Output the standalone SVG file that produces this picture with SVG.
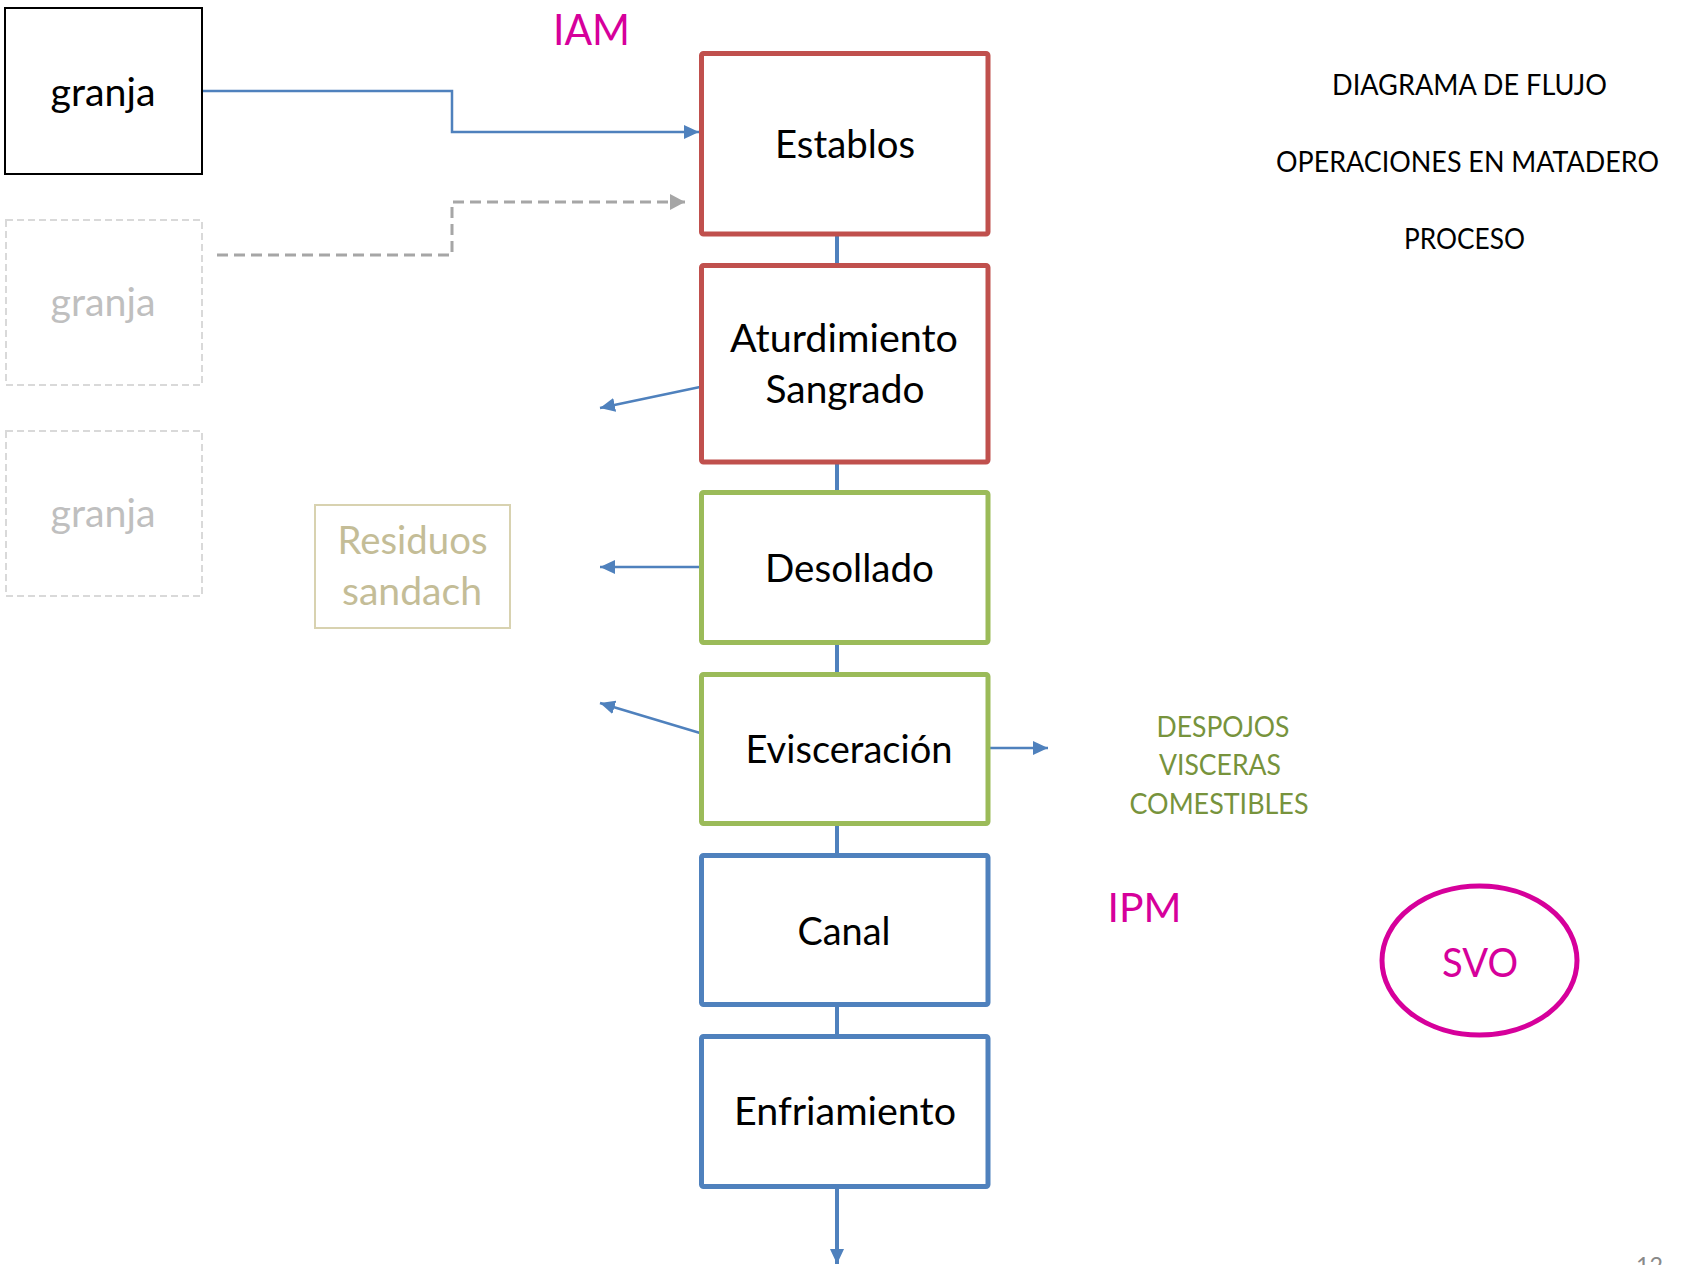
<svg xmlns="http://www.w3.org/2000/svg" width="1682" height="1265" viewBox="0 0 1682 1265">
  <style>
    text { font-family: Lato, "Open Sans", "Liberation Sans", sans-serif; text-anchor: middle; }
    .lbl { font-size: 38px; fill: #000000; }
    .step { fill: #ffffff; stroke-width: 5; }
    .red { stroke: #c0504d; }
    .green { stroke: #9bbb59; }
    .blue { stroke: #4f81bd; }
    .ghost { fill: #ffffff; stroke: #d9d9d9; stroke-width: 2; stroke-dasharray: 7 4; }
    .ghost-txt { font-size: 38px; fill: #bfbfbf; }
    .flow { fill: none; stroke: #4f81bd; stroke-width: 4; }
    .side { fill: none; stroke: #4f81bd; stroke-width: 2.5; }
    .pink { fill: #d6009b; }
    .title { font-size: 28.5px; fill: #000000; }
    .offal { font-size: 28.5px; fill: #77933c; }
  </style>
  <defs>
    <marker id="arrow-blue" markerUnits="userSpaceOnUse" markerWidth="16" markerHeight="14" refX="15" refY="7" orient="auto">
      <path d="M0,0 L15,7 L0,14 Z" fill="#4f81bd"/>
    </marker>
    <marker id="arrow-grey" markerUnits="userSpaceOnUse" markerWidth="16" markerHeight="16" refX="15" refY="8" orient="auto">
      <path d="M0,0 L15,8 L0,16 Z" fill="#a6a6a6"/>
    </marker>
  </defs>

  <rect width="1682" height="1265" fill="#ffffff"/>

  <!-- connectors -->
  <g id="connectors">
    <!-- farm to stables -->
    <polyline class="side" points="202,91 452,91 452,132 699,132" marker-end="url(#arrow-blue)"/>
    <polyline points="217,255 452,255 452,202 685,202" fill="none" stroke="#a6a6a6" stroke-width="3" stroke-dasharray="11 6" marker-end="url(#arrow-grey)"/>
    <!-- main process line -->
    <line class="flow" x1="837" y1="236" x2="837" y2="264"/>
    <line class="flow" x1="837" y1="463" x2="837" y2="491"/>
    <line class="flow" x1="837" y1="644" x2="837" y2="673"/>
    <line class="flow" x1="837" y1="825" x2="837" y2="854"/>
    <line class="flow" x1="837" y1="1006" x2="837" y2="1035"/>
    <line class="flow" x1="837" y1="1188" x2="837" y2="1264" marker-end="url(#arrow-blue)"/>
    <!-- by-product outputs -->
    <line class="side" x1="700" y1="387" x2="600" y2="408" marker-end="url(#arrow-blue)"/>
    <line class="side" x1="700" y1="567" x2="600" y2="567" marker-end="url(#arrow-blue)"/>
    <line class="side" x1="700" y1="733" x2="600" y2="703" marker-end="url(#arrow-blue)"/>
    <line class="side" x1="990" y1="748" x2="1048" y2="748" marker-end="url(#arrow-blue)"/>
  </g>

  <!-- farms -->
  <g id="granja">
    <rect x="5" y="8" width="197" height="166" fill="#ffffff" stroke="#000000" stroke-width="2"/>
    <text class="lbl" x="103" y="106" textLength="105" lengthAdjust="spacingAndGlyphs">granja</text>
  </g>
  <g id="granja-2">
    <rect class="ghost" x="6" y="220" width="196" height="165"/>
    <text class="ghost-txt" x="103" y="316" textLength="105" lengthAdjust="spacingAndGlyphs">granja</text>
  </g>
  <g id="granja-3">
    <rect class="ghost" x="6" y="431" width="196" height="165"/>
    <text class="ghost-txt" x="103" y="527" textLength="105" lengthAdjust="spacingAndGlyphs">granja</text>
  </g>

  <!-- process steps -->
  <g id="establos">
    <rect class="step red" x="701.5" y="53.5" width="286.5" height="180.5" rx="2"/>
    <text class="lbl" x="845" y="158" textLength="140" lengthAdjust="spacingAndGlyphs">Establos</text>
  </g>
  <g id="aturdimiento">
    <rect class="step red" x="701.5" y="265.5" width="286.5" height="196.5" rx="2"/>
    <text class="lbl" x="844" y="352" textLength="228" lengthAdjust="spacingAndGlyphs">Aturdimiento</text>
    <text class="lbl" x="845" y="403" textLength="159" lengthAdjust="spacingAndGlyphs">Sangrado</text>
  </g>
  <g id="desollado">
    <rect class="step green" x="701.5" y="492.5" width="286.5" height="150" rx="2"/>
    <text class="lbl" x="849.5" y="582" textLength="169" lengthAdjust="spacingAndGlyphs">Desollado</text>
  </g>
  <g id="evisceracion">
    <rect class="step green" x="701.5" y="674.5" width="286.5" height="149" rx="2"/>
    <text class="lbl" x="849" y="763" textLength="207" lengthAdjust="spacingAndGlyphs">Evisceración</text>
  </g>
  <g id="canal">
    <rect class="step blue" x="701.5" y="855.5" width="286.5" height="149" rx="2"/>
    <text class="lbl" x="844" y="945" textLength="93" lengthAdjust="spacingAndGlyphs">Canal</text>
  </g>
  <g id="enfriamiento">
    <rect class="step blue" x="701.5" y="1036.5" width="286.5" height="150" rx="2"/>
    <text class="lbl" x="845" y="1125" textLength="222" lengthAdjust="spacingAndGlyphs">Enfriamiento</text>
  </g>

  <!-- waste box -->
  <g id="residuos">
    <rect x="315" y="505" width="195" height="123" fill="#ffffff" stroke="#d8d2b0" stroke-width="2"/>
    <text x="412.5" y="554" font-size="38" fill="#c4bd97" textLength="150" lengthAdjust="spacingAndGlyphs">Residuos</text>
    <text x="412" y="605" font-size="38" fill="#c4bd97" textLength="140" lengthAdjust="spacingAndGlyphs">sandach</text>
  </g>

  <!-- edible offal output -->
  <g id="despojos">
    <text class="offal" x="1223" y="737" textLength="133" lengthAdjust="spacingAndGlyphs">DESPOJOS</text>
    <text class="offal" x="1220" y="775" textLength="122" lengthAdjust="spacingAndGlyphs">VISCERAS</text>
    <text class="offal" x="1219" y="814" textLength="179" lengthAdjust="spacingAndGlyphs">COMESTIBLES</text>
  </g>

  <!-- inspection labels -->
  <g id="iam">
    <text class="pink" x="591.5" y="45" font-size="42" textLength="77" lengthAdjust="spacingAndGlyphs">IAM</text>
  </g>
  <g id="ipm">
    <text class="pink" x="1144.5" y="922" font-size="41.5" textLength="74" lengthAdjust="spacingAndGlyphs">IPM</text>
  </g>
  <g id="svo">
    <ellipse cx="1479.5" cy="960.5" rx="97.5" ry="74.5" fill="none" stroke="#d6009b" stroke-width="5"/>
    <text class="pink" x="1480" y="977" font-size="41.5" textLength="76" lengthAdjust="spacingAndGlyphs">SVO</text>
  </g>

  <!-- heading -->
  <g id="titulo">
    <text class="title" x="1469.5" y="95" textLength="275" lengthAdjust="spacingAndGlyphs">DIAGRAMA DE FLUJO</text>
    <text class="title" x="1467.5" y="172" textLength="383" lengthAdjust="spacingAndGlyphs">OPERACIONES EN MATADERO</text>
    <text class="title" x="1464.5" y="249" textLength="121" lengthAdjust="spacingAndGlyphs">PROCESO</text>
  </g>

  <!-- page number -->
  <text x="1649.5" y="1274" font-size="23.5" fill="#898989" textLength="27" lengthAdjust="spacingAndGlyphs">12</text>
</svg>
